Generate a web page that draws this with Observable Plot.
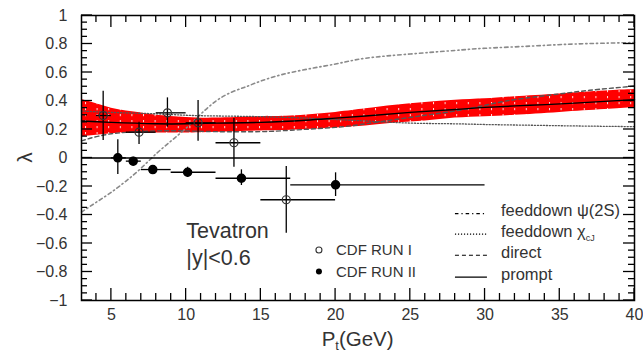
<!DOCTYPE html>
<html>
<head>
<meta charset="utf-8">
<script src="https://cdn.jsdelivr.net/npm/d3@7"></script>
<script src="https://cdn.jsdelivr.net/npm/@observablehq/plot@0.6"></script>
<style>
  html, body { margin: 0; padding: 0; background: #fff; }
  #chart svg { display: block; font-family: "Liberation Sans", Arial, sans-serif; }
</style>
</head>
<body>
<div id="chart"></div>
<script>
// ---- Data ----
// CDF Run I (open circles)
const run1X   = [4.45, 6.85, 8.75, 10.8, 13.2, 16.7];
const run1Y   = [0.298, 0.181, 0.317, 0.247, 0.107, -0.293];
const run1YLo = [0.123, 0.095, 0.216, 0.118, -0.065, -0.528];
const run1YHi = [0.469, 0.251, 0.422, 0.404, 0.277, -0.060];
const run1XLo = [4, 6, 8, 10, 12, 15];
const run1XHi = [5, 8, 10, 12, 15, 20];

// CDF Run II (filled circles)
const run2X   = [5.43, 6.46, 7.77, 10.1, 13.7, 20.0];
const run2Y   = [0.001, -0.022, -0.081, -0.100, -0.142, -0.188];
const run2YLo = [-0.116, -0.053, -0.100, -0.135, -0.193, -0.270];
const run2YHi = [0.128, 0.006, -0.060, -0.065, -0.083, -0.104];
const run2XLo = [5, 6, 7, 9, 12, 17];
const run2XHi = [6, 7, 9, 12, 17, 30];

// Theory curves
const psiX = [3,4,5,6,7,8,9,10,11,12,13,14,15,17,20,22,25,28,30,33,36,40];
const psiY = [-0.38,-0.31,-0.24,-0.16,-0.07,0.03,0.12,0.21,0.31,0.40,0.46,0.50,0.54,0.60,0.66,0.70,0.73,0.755,0.77,0.785,0.80,0.81];

const chiX = [3,5,8,10,12,15,18,20,22,25,28,30,33,36,40];
const chiY = [0.33,0.32,0.31,0.30,0.295,0.29,0.28,0.27,0.26,0.245,0.24,0.235,0.23,0.225,0.22];

const directX = [3,4,5,6,8,10,12,15,17,20,22,24,26,28,30,32,35,37,40];
const directY = [0.12,0.15,0.17,0.18,0.19,0.19,0.185,0.185,0.195,0.215,0.24,0.27,0.30,0.33,0.37,0.41,0.45,0.475,0.505];

const promptX = [3,5,8,10,12,15,18,20,22,25,28,30,33,36,40];
const promptY = [0.26,0.25,0.24,0.24,0.245,0.25,0.265,0.28,0.295,0.32,0.34,0.355,0.37,0.385,0.41];

// Prompt uncertainty band
const bandX  = [3,4,5,6,7,8,10,12,15,17,20,22,24,26,28,30,32,35,38,40];
const bandLo = [0.15,0.16,0.17,0.175,0.175,0.175,0.175,0.18,0.19,0.195,0.21,0.225,0.245,0.26,0.28,0.29,0.30,0.32,0.34,0.355];
const bandHi = [0.41,0.38,0.35,0.33,0.315,0.30,0.285,0.28,0.29,0.295,0.32,0.345,0.37,0.39,0.405,0.415,0.43,0.45,0.47,0.48];

// Axis ticks
const xMajor = [5,10,15,20,25,30,35,40];
const xMinor = [4,6,7,8,9,11,12,13,14,16,17,18,19,21,22,23,24,26,27,28,29,31,32,33,34,36,37,38,39];
const yMajor = [-1,-0.8,-0.6,-0.4,-0.2,0,0.2,0.4,0.6,0.8,1];
const yMinor = [-0.95,-0.9,-0.85,-0.75,-0.7,-0.65,-0.55,-0.5,-0.45,-0.35,-0.3,-0.25,-0.15,-0.1,-0.05,
                0.05,0.1,0.15,0.25,0.3,0.35,0.45,0.5,0.55,0.65,0.7,0.75,0.85,0.9,0.95];

// Legend labels
const curveLabels = ["feeddown ψ(2S)", "feeddown χ", "direct", "prompt"];
const dataLabels = ["CDF RUN I", "CDF RUN II"];
const regionLabels = ["Tevatron", "|y|<0.6"];

// ---- Build tables ----
const run1 = run1X.map((x,i) => ({x, y: run1Y[i], ylo: run1YLo[i], yhi: run1YHi[i], xlo: run1XLo[i], xhi: run1XHi[i]}));
const run2 = run2X.map((x,i) => ({x, y: run2Y[i], ylo: run2YLo[i], yhi: run2YHi[i], xlo: run2XLo[i], xhi: run2XHi[i]}));
const psi = psiX.map((x,i) => ({x, y: psiY[i]}));
const chi = chiX.map((x,i) => ({x, y: chiY[i]}));
const direct = directX.map((x,i) => ({x, y: directY[i]}));
const prompt = promptX.map((x,i) => ({x, y: promptY[i]}));
const band = bandX.map((x,i) => ({x, lo: bandLo[i], hi: bandHi[i]}));

const W = 643, H = 354;
const mL = 81, mR = 9, mT = 15, mB = 54;
const xDom = [3, 40], yDom = [-1, 1];
const fmt = d => d === 0 ? "0" : String(d).replace("-", "\u2212");

const styles = {
  psi:    {stroke: "#8a8a8a", strokeWidth: 1.6, strokeDasharray: "3.5,3,1.2,3"},
  chi:    {stroke: "#555", strokeWidth: 1.3, strokeDasharray: "1.2,1.8"},
  direct: {stroke: "#555", strokeWidth: 1.4, strokeDasharray: "4,3"},
  prompt: {stroke: "#000", strokeWidth: 1.4}
};

const chart = Plot.plot({
  width: W, height: H,
  marginLeft: mL, marginRight: mR, marginTop: mT, marginBottom: mB,
  style: {fontFamily: "Liberation Sans, Arial, sans-serif", background: "#fff"},
  x: {domain: xDom},
  y: {domain: yDom},
  marks: [
    Plot.areaY(band, {x: "x", y1: "lo", y2: "hi", fill: "url(#bandpat)", curve: "natural"}),
    Plot.line(psi, {x: "x", y: "y", curve: "natural", ...styles.psi}),
    Plot.line(chi, {x: "x", y: "y", curve: "natural", ...styles.chi}),
    Plot.line(direct, {x: "x", y: "y", curve: "natural", ...styles.direct}),
    Plot.line(prompt, {x: "x", y: "y", curve: "natural", ...styles.prompt}),
    Plot.ruleY([0], {stroke: "#000", strokeWidth: 1.3}),
    // Error bars
    Plot.ruleY(run1, {y: "y", x1: "xlo", x2: "xhi", stroke: "#000", strokeWidth: 1.3}),
    Plot.ruleX(run1, {x: "x", y1: "ylo", y2: "yhi", stroke: "#000", strokeWidth: 1.3}),
    Plot.ruleY(run2, {y: "y", x1: "xlo", x2: "xhi", stroke: "#000", strokeWidth: 1.3}),
    Plot.ruleX(run2, {x: "x", y1: "ylo", y2: "yhi", stroke: "#000", strokeWidth: 1.3}),
    Plot.dot(run1, {x: "x", y: "y", r: 4, stroke: "#333", strokeWidth: 1.2, fill: "none"}),
    Plot.dot(run2, {x: "x", y: "y", r: 4, fill: "#000", stroke: "#000"}),
    Plot.frame({stroke: "#000", strokeWidth: 1.5}),
    Plot.axisX(xMajor, {tickSize: 0, tickPadding: 8, fontSize: 16, fill: "#333", label: null}),
    Plot.axisY(yMajor, {tickSize: 0, tickPadding: 14, fontSize: 16, fill: "#333", label: null, tickFormat: fmt})
  ]
});

document.getElementById("chart").appendChild(chart);

const svg = d3.select(chart);
// Hatched red fill pattern imitating the reference band rendering
const defs = svg.insert("defs", ":first-child");
const pat = defs.append("pattern").attr("id", "bandpat").attr("patternUnits", "userSpaceOnUse")
  .attr("x", mL + 4).attr("y", 0).attr("width", 11.6).attr("height", 6);
pat.append("rect").attr("width", 11.6).attr("height", 6).attr("fill", "#ff0000");
pat.append("rect").attr("x", 0).attr("y", 0).attr("width", 1).attr("height", 2.2).attr("fill", "#fff").attr("opacity", 0.85);

// ---- Scales for ticks and annotations ----
const sx = chart.scale("x"), sy = chart.scale("y");
const X = v => sx.apply(v), Y = v => sy.apply(v);

// Inward ticks on all four sides (positions from the plot's own scales)
const tg = svg.append("g").attr("stroke", "#000").attr("stroke-width", 1.3);
const x0 = X(xDom[0]), x1 = X(xDom[1]), y0 = Y(yDom[0]), y1 = Y(yDom[1]);
const addX = (vals, len) => vals.forEach(v => {
  tg.append("line").attr("x1", X(v)).attr("x2", X(v)).attr("y1", y0).attr("y2", y0 - len);
  tg.append("line").attr("x1", X(v)).attr("x2", X(v)).attr("y1", y1).attr("y2", y1 + len);
});
const addY = (vals, len) => vals.forEach(v => {
  tg.append("line").attr("y1", Y(v)).attr("y2", Y(v)).attr("x1", x0).attr("x2", x0 + len);
  tg.append("line").attr("y1", Y(v)).attr("y2", Y(v)).attr("x1", x1).attr("x2", x1 - len);
});
addX(xMajor, 12); addX(xMinor, 7);
addY(yMajor, 11); addY(yMinor, 6);

const g = svg.append("g").attr("font-family", "Liberation Sans, Arial, sans-serif")
  .attr("fill", "#333").attr("text-anchor", "start");

// Axis titles
const xt = g.append("text").attr("x", X(19.1)).attr("y", H - 8).attr("font-size", 20.5);
xt.append("tspan").text("P");
xt.append("tspan").attr("font-size", 13).attr("dy", 4).text("t");
xt.append("tspan").attr("dy", -4).text("(GeV)");
g.append("text").attr("transform", `translate(${25},${Y(0)}) rotate(-90)`)
  .attr("text-anchor", "middle").attr("dy", "0.35em").attr("font-size", 21).text("λ");

// Region label
g.append("text").attr("x", X(10.05)).attr("y", Y(-0.51)).attr("dy", "0.35em").attr("font-size", 21.5).text(regionLabels[0]);
g.append("text").attr("x", X(10.05)).attr("y", Y(-0.705)).attr("dy", "0.35em").attr("font-size", 21.5).text(regionLabels[1]);

// Data legend
const dlY = [-0.649, -0.80];
g.append("circle").attr("cx", X(18.92)).attr("cy", Y(dlY[0])).attr("r", 3).attr("fill", "none").attr("stroke", "#333").attr("stroke-width", 1.1);
g.append("circle").attr("cx", X(18.92)).attr("cy", Y(dlY[1])).attr("r", 3).attr("fill", "#000");
dataLabels.forEach((t, i) => g.append("text").attr("x", X(20.06)).attr("y", Y(dlY[i])).attr("dy", "0.35em").attr("font-size", 15).text(t));

// Curve legend
const clY = [-0.373, -0.516, -0.665, -0.818];
const clStyles = [styles.psi, styles.chi, styles.direct, styles.prompt];
clStyles.forEach((s, i) => {
  g.append("line").attr("x1", X(28.02)).attr("x2", X(30.16)).attr("y1", Y(clY[i]) + 3).attr("y2", Y(clY[i]) + 3)
    .attr("stroke", "#000").attr("stroke-width", 1.2).attr("stroke-dasharray", s.strokeDasharray || null);
  const t = g.append("text").attr("x", X(31.1)).attr("y", Y(clY[i])).attr("dy", "0.35em").attr("font-size", 16.5);
  t.append("tspan").text(curveLabels[i]);
  if (i === 1) t.append("tspan").attr("font-size", 9).attr("dy", 4).text("cJ");
});
</script>
</body>
</html>
